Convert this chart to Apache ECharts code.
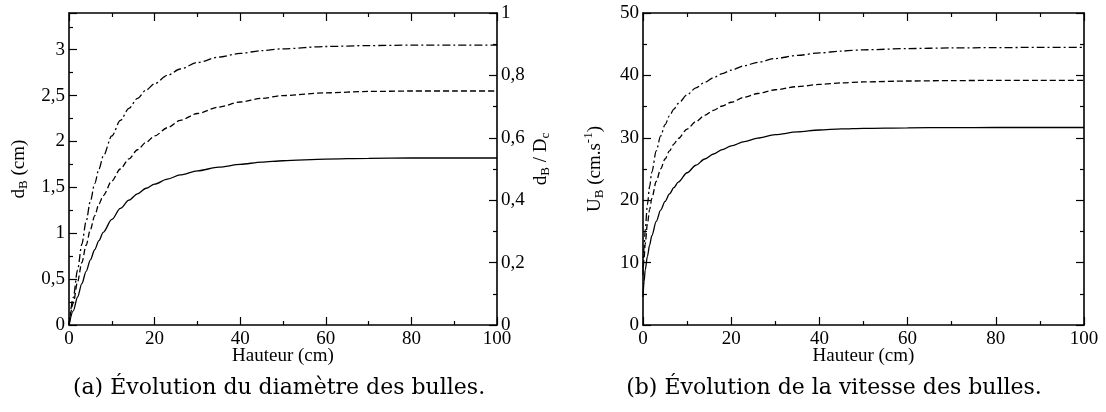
<!DOCTYPE html>
<html>
<head>
<meta charset="utf-8">
<script src="https://cdn.jsdelivr.net/npm/echarts@6/dist/echarts.min.js"></script>
<style>
html,body{margin:0;padding:0;background:#fff;}
#chart{width:1106px;height:412px;}
</style>
</head>
<body>
<div id="chart"></div>
<script>
// ---- Data: (a) bubble diameter vs height ----
const heightA = [0, 1, 2, 3, 4, 5, 6, 7, 8, 10, 12, 14, 16, 18, 20, 23, 26, 30, 35, 40, 45, 50, 60, 70, 80, 90, 100];
const diamSolid = [0, 0.155, 0.305, 0.45, 0.585, 0.71, 0.82, 0.92, 1.01, 1.15, 1.27, 1.36, 1.43, 1.49, 1.535, 1.59, 1.635, 1.68, 1.72, 1.75, 1.775, 1.79, 1.808, 1.816, 1.82, 1.82, 1.82];
const diamDashed = [0, 0.24, 0.47, 0.68, 0.87, 1.04, 1.19, 1.32, 1.41, 1.57, 1.70, 1.81, 1.91, 1.99, 2.06, 2.15, 2.23, 2.305, 2.375, 2.43, 2.47, 2.50, 2.53, 2.545, 2.55, 2.55, 2.55];
const diamDashDot = [0, 0.3, 0.6, 0.88, 1.13, 1.35, 1.54, 1.7, 1.84, 2.06, 2.23, 2.36, 2.47, 2.56, 2.63, 2.72, 2.79, 2.86, 2.92, 2.96, 2.99, 3.01, 3.035, 3.045, 3.05, 3.05, 3.05];

// ---- Data: (b) bubble velocity vs height ----
const heightB = [0, 0.25, 0.5, 1, 1.5, 2, 3, 4, 5, 6, 7, 8, 10, 12, 14, 16, 18, 20, 23, 26, 30, 35, 40, 45, 50, 60, 70, 80, 90, 100];
const velSolid = [4.5, 7, 8.8, 11, 12.8, 14.3, 16.6, 18.4, 19.8, 21.0, 22.0, 22.9, 24.4, 25.6, 26.6, 27.4, 28.1, 28.7, 29.4, 29.95, 30.5, 30.95, 31.25, 31.42, 31.52, 31.6, 31.63, 31.65, 31.65, 31.65];
const velDashed = [8, 10.8, 13, 16.2, 18.5, 20.3, 23, 25, 26.6, 27.9, 29, 29.9, 31.4, 32.6, 33.6, 34.4, 35.1, 35.7, 36.5, 37.1, 37.7, 38.2, 38.55, 38.8, 38.95, 39.1, 39.17, 39.2, 39.2, 39.2];
const velDashDot = [9, 12.5, 15.3, 19.3, 22.2, 24.5, 27.9, 30.3, 32.1, 33.5, 34.6, 35.5, 36.9, 38.0, 38.9, 39.65, 40.3, 40.85, 41.55, 42.1, 42.7, 43.2, 43.6, 43.9, 44.1, 44.3, 44.4, 44.45, 44.5, 44.5];

// ---- Tick / text ----
const xTicks = [0, 20, 40, 60, 80, 100];
const captionA = '(a) Évolution du diamètre des bulles.';
const captionB = '(b) Évolution de la vitesse des bulles.';
const xName = 'Hauteur (cm)';

const FONT = 'Liberation Serif';
const comma = v => String(+v.toFixed(2)).replace('.', ',');

function pairs(xs, ys) { return xs.map((x, i) => [x, ys[i]]); }

const baseLine = { show: true, onZero: false, lineStyle: { color: '#000', width: 1.6 } };
const baseTick = { show: true, inside: true, length: 8, lineStyle: { color: '#000', width: 1.2 } };
const baseMinor = { show: true, splitNumber: 2, length: 4, lineStyle: { color: '#000', width: 1.2 } };
const lbl = { color: '#000', fontFamily: FONT, fontSize: 19 };

function xAxisDef(grid, pos, showLabel) {
  return {
    type: 'value', gridIndex: grid, position: pos, min: 0, max: 100, interval: 20,
    axisLine: baseLine, axisTick: baseTick, minorTick: baseMinor, splitLine: { show: false },
    axisLabel: showLabel ? Object.assign({ margin: 5, formatter: v => xTicks.includes(v) ? String(v) : '' }, lbl) : { show: false },
    name: showLabel ? xName : '', nameLocation: 'middle', nameGap: 22, nameMoveOverlap: false,
    nameTextStyle: { color: '#000', fontFamily: FONT, fontSize: 19 }
  };
}

const subRich = {
  n: { fontFamily: FONT, fontSize: 19, color: '#000', lineHeight: 24 },
  sub: { fontFamily: FONT, fontSize: 13, color: '#000', lineHeight: 24, padding: [10, 0, 0, 0] },
  sup: { fontFamily: FONT, fontSize: 13, color: '#000', lineHeight: 24, padding: [0, 0, 12, 0] }
};

const dashedStyle = [6, 3];
const dashDotStyle = [8, 3, 2, 3];

function lineSeries(x, y, data, type) {
  return {
    type: 'line', xAxisIndex: x, yAxisIndex: y, data: data, showSymbol: false, symbol: 'none',
    smooth: 0.3, smoothMonotone: 'x', silent: true, animation: false,
    lineStyle: { color: '#000', width: 1.3, type: type }
  };
}

const option = {
  animation: false,
  backgroundColor: '#fff',
  grid: [
    { left: 69, top: 13, width: 428, height: 312 },
    { left: 643, top: 13, width: 441, height: 312 }
  ],
  xAxis: [
    xAxisDef(0, 'bottom', true),
    xAxisDef(0, 'top', false),
    xAxisDef(1, 'bottom', true),
    xAxisDef(1, 'top', false)
  ],
  yAxis: [
    {
      type: 'value', gridIndex: 0, position: 'left', min: 0, max: 3.4, interval: 0.5,
      axisLine: baseLine, axisTick: baseTick, minorTick: baseMinor, splitLine: { show: false },
      axisLabel: Object.assign({ margin: 4, formatter: v => (Math.abs(v * 2 - Math.round(v * 2)) < 1e-6) ? comma(v) : '' }, lbl),
      name: '{n|d}{sub|B}{n| (cm)}', nameLocation: 'middle', nameGap: 38, nameRotate: 90, nameMoveOverlap: false,
      nameTextStyle: { rich: subRich }
    },
    {
      type: 'value', gridIndex: 0, position: 'right', min: 0, max: 1, interval: 0.2,
      axisLine: baseLine, axisTick: baseTick, minorTick: baseMinor, splitLine: { show: false },
      axisLabel: Object.assign({ margin: 4, formatter: v => comma(v) }, lbl),
      name: '{n|d}{sub|B}{n| / D}{sub|c}', nameLocation: 'middle', nameGap: 32, nameRotate: 90, nameMoveOverlap: false,
      nameTextStyle: { rich: subRich, padding: [0, 0, 0, 20] }
    },
    {
      type: 'value', gridIndex: 1, position: 'left', min: 0, max: 50, interval: 10,
      axisLine: baseLine, axisTick: baseTick, minorTick: baseMinor, splitLine: { show: false },
      axisLabel: Object.assign({ margin: 4 }, lbl),
      name: '{n|U}{sub|B}{n| (cm.s}{sup|-1}{n|)}', nameLocation: 'middle', nameGap: 36, nameRotate: 90, nameMoveOverlap: false,
      nameTextStyle: { rich: subRich }
    },
    {
      type: 'value', gridIndex: 1, position: 'right', min: 0, max: 50, interval: 10,
      axisLine: baseLine, axisTick: baseTick, minorTick: baseMinor, splitLine: { show: false },
      axisLabel: { show: false }
    }
  ],
  series: [
    lineSeries(0, 0, pairs(heightA, diamSolid), 'solid'),
    lineSeries(0, 0, pairs(heightA, diamDashed), dashedStyle),
    lineSeries(0, 0, pairs(heightA, diamDashDot), dashDotStyle),
    lineSeries(2, 2, pairs(heightB, velSolid), 'solid'),
    lineSeries(2, 2, pairs(heightB, velDashed), dashedStyle),
    lineSeries(2, 2, pairs(heightB, velDashDot), dashDotStyle)
  ],
  graphic: [
    { type: 'text', x: 279, y: 388, style: { text: captionA, fill: '#000', font: '22px "DejaVu Serif"', align: 'center', verticalAlign: 'middle' } },
    { type: 'text', x: 834, y: 388, style: { text: captionB, fill: '#000', font: '22px "DejaVu Serif"', align: 'center', verticalAlign: 'middle' } }
  ]
};

const chart = echarts.init(document.getElementById('chart'), null, { renderer: 'canvas' });
chart.setOption(option);
</script>
</body>
</html>
